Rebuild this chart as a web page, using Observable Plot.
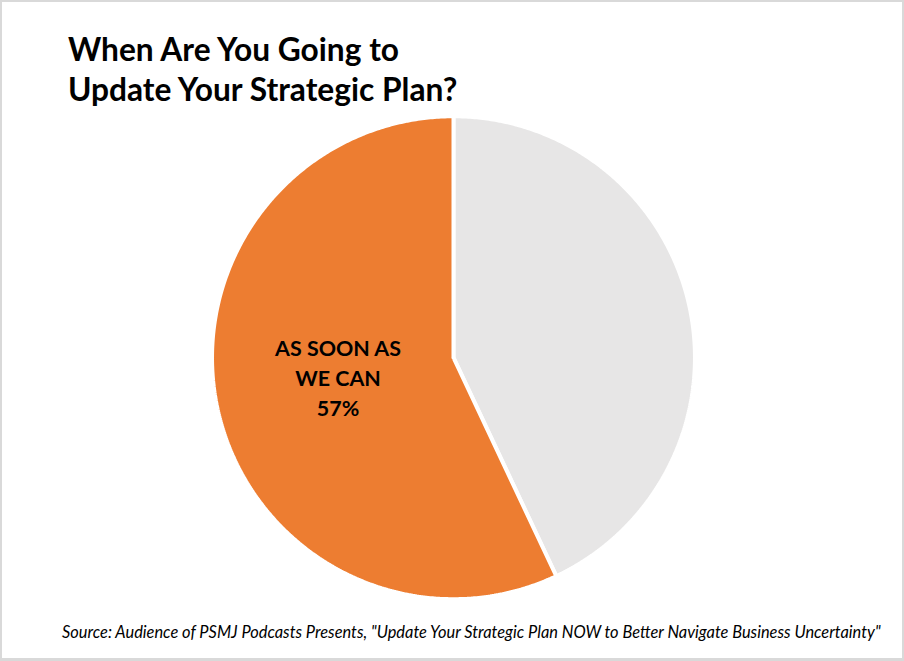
<!DOCTYPE html>
<html>
<head>
<meta charset="utf-8">
<script src="https://cdn.jsdelivr.net/npm/d3@7"></script>
<script src="https://cdn.jsdelivr.net/npm/@observablehq/plot@0.6"></script>
<style>
  html, body { margin: 0; padding: 0; background: #fff; }
  #frame { position: relative; width: 904px; height: 661px; box-sizing: border-box; border: 2px solid #d9d9d9; border-bottom-width: 3px; overflow: hidden; font-family: Lato, "Open Sans", sans-serif; }
  #title { position: absolute; left: 66px; top: 27px; font-weight: 700; font-size: 31.7px; line-height: 40px; color: #000; }
  #chart { position: absolute; left: -2px; top: -2px; }
  #source { position: absolute; left: 60px; top: 620px; font-style: italic; font-size: 16.4px; color: #000; white-space: nowrap; }
</style>
</head>
<body>
<div id="frame">
  <div id="chart"></div>
  <div id="title">When Are You Going to<br>Update Your Strategic Plan?</div>
  <div id="source">Source: Audience of PSMJ Podcasts Presents, "Update Your Strategic Plan NOW to Better Navigate Business Uncertainty"</div>
</div>
<script>
// Data
const categories = ["Later", "As soon as we can"];
const values = [43, 57];
const labels = ["", "AS SOON AS\nWE CAN\n57%"];
const colors = ["#E7E6E6", "#ED7D31"];

const pie = d3.pie().sort(null).value(d => d.value)(categories.map((c, i) => ({name: c, value: values[i], label: labels[i]})));

// Build slice outlines (unit circle, angles clockwise from 12 o'clock)
const slicePoints = [];
for (const a of pie) {
  slicePoints.push({name: a.data.name, x: 0, y: 0});
  const n = Math.max(2, Math.ceil((a.endAngle - a.startAngle) / (Math.PI / 360)));
  for (let k = 0; k <= n; k++) {
    const t = a.startAngle + (a.endAngle - a.startAngle) * k / n;
    slicePoints.push({name: a.data.name, x: Math.sin(t), y: Math.cos(t)});
  }
  slicePoints.push({name: a.data.name, x: 0, y: 0});
}
const labelPoints = pie.filter(a => a.data.label).map(a => {
  const m = (a.startAngle + a.endAngle) / 2;
  return {label: a.data.label, x: 0.49 * Math.sin(m), y: 0.49 * Math.cos(m)};
});

const cx = 454, cy = 358, r = 242, W = 904, H = 661;
const chart = Plot.plot({
  width: W,
  height: H,
  marginLeft: cx - r,
  marginRight: W - (cx + r),
  marginTop: cy - r,
  marginBottom: H - (cy + r),
  x: {domain: [-1, 1], axis: null},
  y: {domain: [-1, 1], axis: null},
  color: {domain: categories, range: colors},
  style: {background: "transparent", fontFamily: "Lato, 'Open Sans', sans-serif"},
  marks: [
    Plot.line(slicePoints, {x: "x", y: "y", z: "name", fill: "name", stroke: "white", strokeWidth: 4, strokeLinejoin: "miter", curve: "linear"}),
    Plot.text(labelPoints, {x: "x", y: "y", text: "label", dy: -7, fontSize: 21.5, fontWeight: "bold", fill: "#000", lineHeight: 1.4})
  ]
});
document.getElementById("chart").appendChild(chart);
</script>
</body>
</html>
